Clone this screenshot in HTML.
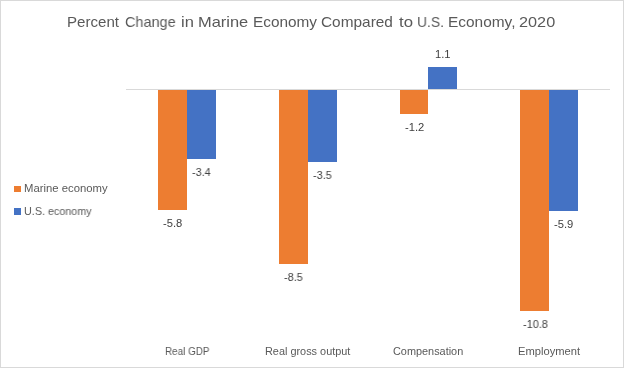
<!DOCTYPE html>
<html><head><meta charset="utf-8"><style>
html,body{margin:0;padding:0;background:#fff}
body{width:624px;height:368px;position:relative;overflow:hidden}
.frame{position:absolute;left:0;top:0;width:622px;height:366px;border:1px solid #d9d9d9}
.b{position:absolute}
.t{position:absolute;font-family:'Liberation Sans',sans-serif;line-height:1;white-space:nowrap;transform-origin:0 0;will-change:transform}
</style></head><body>
<div class="frame"></div>
<div class="b" style="left:126px;top:89px;width:484px;height:1px;background:#d9d9d9"></div>
<div class="b" style="left:158px;top:90px;width:29px;height:120px;background:#ED7D31"></div>
<div class="b" style="left:187px;top:90px;width:29px;height:69px;background:#4472C4"></div>
<div class="b" style="left:279px;top:90px;width:29px;height:174px;background:#ED7D31"></div>
<div class="b" style="left:308px;top:90px;width:29px;height:72px;background:#4472C4"></div>
<div class="b" style="left:400px;top:90px;width:28px;height:24px;background:#ED7D31"></div>
<div class="b" style="left:428px;top:67px;width:29px;height:22px;background:#4472C4"></div>
<div class="b" style="left:520px;top:90px;width:29px;height:221px;background:#ED7D31"></div>
<div class="b" style="left:549px;top:90px;width:29px;height:121px;background:#4472C4"></div>
<div class="b" style="left:14px;top:186px;width:7px;height:6px;background:#ED7D31"></div>
<div class="b" style="left:14px;top:208px;width:7px;height:7px;background:#4472C4"></div>
<div class="t" style="left:66.99px;top:14.00px;font-size:15.0px;color:#595959;transform:scaleX(1.0059)">Percent</div>
<div class="t" style="left:124.84px;top:14.00px;font-size:15.0px;color:#595959;transform:scaleX(0.9647)">Change</div>
<div class="t" style="left:180.90px;top:14.00px;font-size:15.0px;color:#595959;transform:scaleX(1.1000)">in</div>
<div class="t" style="left:197.90px;top:14.00px;font-size:15.0px;color:#595959;transform:scaleX(1.0955)">Marine</div>
<div class="t" style="left:253.18px;top:14.00px;font-size:15.0px;color:#595959;transform:scaleX(1.0230)">Economy</div>
<div class="t" style="left:321.17px;top:14.00px;font-size:15.0px;color:#595959;transform:scaleX(1.0265)">Compared</div>
<div class="t" style="left:398.60px;top:14.00px;font-size:15.0px;color:#595959;transform:scaleX(1.1167)">to</div>
<div class="t" style="left:417.27px;top:14.00px;font-size:15.0px;color:#595959;transform:scaleX(0.9259)">U.S.</div>
<div class="t" style="left:447.97px;top:14.00px;font-size:15.0px;color:#595959;transform:scaleX(1.0286)">Economy,</div>
<div class="t" style="left:518.92px;top:14.00px;font-size:15.0px;color:#595959;transform:scaleX(1.0844)">2020</div>
<div class="t" style="left:23.96px;top:183.00px;font-size:10.9px;color:#595959;transform:scaleX(1.0380)">Marine economy</div>
<div class="t" style="left:24.01px;top:206.00px;font-size:10.9px;color:#595959;transform:scaleX(0.9881)">U.S. economy</div>
<div class="t" style="left:165.09px;top:346.00px;font-size:10.9px;color:#595959;transform:scaleX(0.9062)">Real GDP</div>
<div class="t" style="left:265.00px;top:346.00px;font-size:10.9px;color:#595959;transform:scaleX(0.9964)">Real gross output</div>
<div class="t" style="left:392.70px;top:346.00px;font-size:10.9px;color:#595959;transform:scaleX(0.9971)">Compensation</div>
<div class="t" style="left:518.17px;top:346.00px;font-size:10.9px;color:#595959;transform:scaleX(1.0254)">Employment</div>
<div class="t" style="left:192.40px;top:167.00px;font-size:11.2px;color:#404040;transform:scaleX(0.9684)">-3.4</div>
<div class="t" style="left:163.20px;top:218.00px;font-size:11.2px;color:#404040;transform:scaleX(0.9789)">-5.8</div>
<div class="t" style="left:313.20px;top:170.00px;font-size:11.2px;color:#404040;transform:scaleX(0.9737)">-3.5</div>
<div class="t" style="left:284.10px;top:272.00px;font-size:11.2px;color:#404040;transform:scaleX(0.9737)">-8.5</div>
<div class="t" style="left:435.03px;top:49.00px;font-size:11.2px;color:#404040;transform:scaleX(0.9714)">1.1</div>
<div class="t" style="left:405.30px;top:122.00px;font-size:11.2px;color:#404040;transform:scaleX(0.9789)">-1.2</div>
<div class="t" style="left:554.00px;top:219.00px;font-size:11.2px;color:#404040;transform:scaleX(0.9895)">-5.9</div>
<div class="t" style="left:522.50px;top:319.00px;font-size:11.2px;color:#404040;transform:scaleX(0.9760)">-10.8</div>
</body></html>
